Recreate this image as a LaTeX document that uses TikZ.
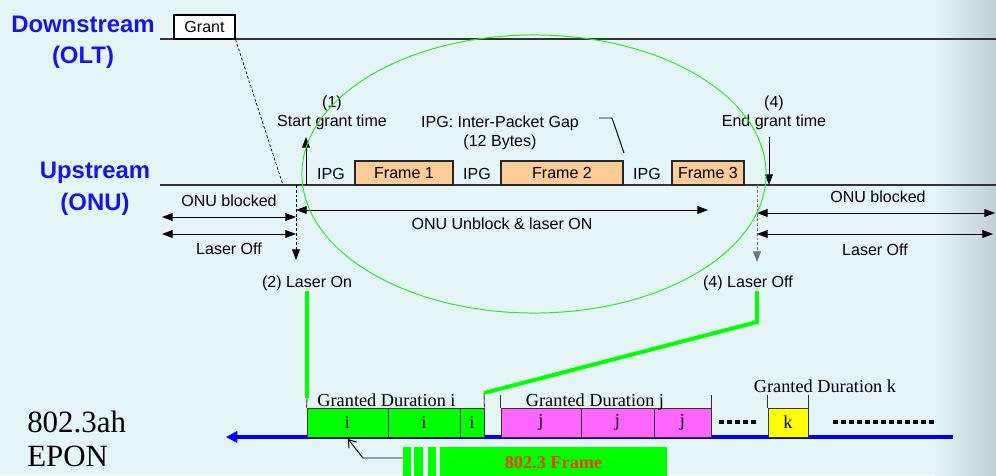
\documentclass[tikz,border=0pt]{standalone}
\usepackage{fontspec}
\setmainfont{Liberation Sans}
\newfontfamily\tmsfont{Liberation Serif}
\usetikzlibrary{arrows.meta,shapes.geometric}
\definecolor{bgc}{RGB}{229,245,246}
\definecolor{edgec}{RGB}{192,208,208}
\definecolor{headblue}{RGB}{20,20,235}
\definecolor{peach}{RGB}{255,204,153}
\definecolor{slotg}{RGB}{0,255,0}
\definecolor{slotm}{RGB}{255,102,255}
\definecolor{slotk}{RGB}{255,255,0}
\definecolor{ringg}{RGB}{45,230,45}
\definecolor{frmred}{RGB}{240,60,20}
\begin{document}
\begin{tikzpicture}[x=0.025cm,y=-0.025cm,>={Triangle[length=7.5pt,width=5.5pt]},
  txt/.style={font=\fontsize{11.4}{13}\selectfont,inner sep=0pt},
  head/.style={font=\fontsize{17}{20}\selectfont\bfseries,text=headblue,inner sep=0pt,anchor=base},
  frm/.style={txt,draw=black!85,fill=peach,line width=0.8pt,minimum height=0.6cm},
  slot/.style={draw=black!80,line width=0.6pt,minimum height=0.725cm,inner sep=0pt,font=\tmsfont\fontsize{13}{15}\selectfont},
  dur/.style={font=\tmsfont\fontsize{13}{15}\selectfont,inner sep=0pt,anchor=base},
  bar/.style={fill=slotg,minimum height=0.75cm,inner sep=0pt,anchor=north},
  gline/.style={slotg,line width=2.8pt},
  tick/.style={draw=black!80,line width=0.6pt},
  dots/.style={line width=2.2pt,dash pattern=on 3.6pt off 2.1pt},
  thinarr/.style={line width=0.7pt},
  fine/.style={line width=0.6pt,dash pattern=on 2pt off 1.4pt}]
\fill[bgc] (0,0) rectangle (996,475);
\shade[left color=bgc,right color=edgec] (935,0) rectangle (996,475);
\useasboundingbox (0,0) rectangle (996,475);
% time lines
\coordinate (dsL) at (160,39); \coordinate (dsR) at (996,39);
\coordinate (usL) at (160,185); \coordinate (usR) at (996,185);
\draw[line width=1.3pt,black!80] (dsL) -- (dsR);
\draw[line width=1.6pt,black!80] (usL) -- (usR);
\node[head] (ds) at (83,32) {Downstream};
\node[head] (olt) at (83,63) {(OLT)};
\node[head] (us) at (95,178) {Upstream};
\node[head] (onu) at (95,210) {(ONU)};
\node[txt,draw,fill=white,line width=0.8pt,minimum width=1.525cm,minimum height=0.6cm] (grant) at (204.5,27) {Grant};
\coordinate (gArr) at (283,185);
\draw[fine,line width=0.5pt] (grant.south east) -- (gArr);
% frames
\node[frm,minimum width=2.45cm] (f1) at (404,173) {Frame 1};
\node[frm,minimum width=3.05cm] (f2) at (562,173) {Frame 2};
\node[frm,minimum width=1.8cm] (f3) at (708,173) {Frame 3};
\node[txt] (g1) at (331,174) {IPG};
\node[txt] (g2) at (477,174) {IPG};
\node[txt] (g3) at (647,174) {IPG};
\node[txt] (ipg) at (500,123) {IPG: Inter-Packet Gap};
\node[txt] (ipgb) at (500,142) {(12 Bytes)};
\coordinate (ipgA) at (599,118); \coordinate (ipgK) at (612,118); \coordinate (ipgE) at (624,153);
\draw[thinarr] (ipgA) -- (ipgK) -- (ipgE);
% grant start / end
\node[txt] (sg1) at (332,103) {(1)};
\node[txt] (sg) at (332,122) {Start grant time};
\coordinate (tSg) at (306,185); \coordinate (tSgE) at (306,137);
\draw[thinarr,->] (tSg) -- (tSgE);
\node[txt] (eg1) at (774,103) {(4)};
\node[txt] (eg) at (774,122) {End grant time};
\coordinate (tEgS) at (769,137); \coordinate (tEg) at (769,185);
\draw[thinarr,->] (tEgS) -- (tEg);
\coordinate (tOn) at (296,185); \coordinate (tOnE) at (296,260);
\draw[fine,->] (tOn) -- (tOnE);
\coordinate (tOff) at (757,185); \coordinate (tOffE) at (757,262);
\draw[fine,black!55,->] (tOff) -- (tOffE);
% state arrows
\coordinate (bl0) at (162,217); \coordinate (ll0) at (162,234);
\draw[thinarr,<->] (bl0) -- (tOn |- bl0);
\draw[thinarr,<->] (ll0) -- (tOn |- ll0);
\node[txt] (blk1) at (229,201) {ONU blocked};
\node[txt] (lof1) at (229,249) {Laser Off};
\coordinate (ub1) at (708,210);
\draw[thinarr,<->] (tOn |- ub1) -- (ub1);
\node[txt] (unb) at (502,224) {ONU Unblock \& laser ON};
\coordinate (br1) at (995,213); \coordinate (lr1) at (993,234);
\draw[thinarr,<->] (tOff |- br1) -- (br1);
\draw[thinarr,<->] (tOff |- lr1) -- (lr1);
\node[txt] (blk2) at (878,197) {ONU blocked};
\node[txt] (lof2) at (875,250) {Laser Off};
\node[txt] (lon) at (307,283) {(2) Laser On};
\node[txt] (loff) at (748,283) {(4) Laser Off};
\node[draw=ringg,line width=0.7pt,ellipse,minimum width=11.6cm,minimum height=6.95cm,inner sep=0pt] (ring) at (534,174) {};
% EPON slots
\coordinate (bR) at (953,437); \coordinate (bL) at (226,437);
\draw[blue,line width=2.8pt,-{Triangle[length=8pt,width=8pt]}] (bR) -- (bL);
\foreach \n/\c/\w/\t/\col in {i1/347.5/2.025/i/slotg,i2/424/1.8/i/slotg,i3/472/0.6/i/slotg,
  j1/541/2/j/slotm,j2/617.5/1.825/j/slotm,j3/682.5/1.425/j/slotm,k1/788/1/k/slotk}
  \node[slot,fill=\col,minimum width=\w cm] (\n) at (\c,422.5) {\t};
\coordinate (iTop) at (307,398); \coordinate (iEnd) at (484,393);
\draw[tick] (i1.north west) -- (iTop);
\draw[tick] (i3.north east) -- (iEnd);
\draw[tick] (j1.north west) -- ++(0,-13);
\draw[tick] (j3.north east) -- ++(0,-13);
\draw[tick] (k1.north west) -- ++(0,-13);
\draw[tick] (k1.north east) -- ++(0,-13);
\node[dur] (di) at (386.5,406) {Granted Duration i};
\node[dur] (dj) at (595,406) {Granted Duration j};
\node[dur] (dk) at (825,392) {Granted Duration k};
\coordinate (d0) at (719,422); \coordinate (d1) at (758,422);
\coordinate (d2) at (833,422); \coordinate (d3) at (937,422);
\draw[dots] (d0) -- (d1);
\draw[dots] (d2) -- (d3);
% links to the slot
\coordinate (offS) at (757,291); \coordinate (offK) at (757,322);
\draw[gline] (lon.south) -- (iTop);
\draw[gline] (offS) -- (offK) -- (iEnd);
% 802.3 frame
\node[bar,minimum width=0.2cm] (b1) at (407,447) {};
\node[bar,minimum width=0.225cm] (b2) at (418.5,447) {};
\node[bar,minimum width=0.2cm] (b3) at (432,447) {};
\node[bar,minimum width=5.675cm,text=frmred,font=\tmsfont\bfseries\fontsize{13}{15}\selectfont] (fr) at (553.5,447) {802.3 Frame};
\coordinate (lk) at (363,458); \coordinate (lt) at (348,439);
\draw[thinarr,-{Straight Barb[length=5pt,width=7pt]}] (b1.west |- lk) -- (lk) -- (lt);
\node[font=\tmsfont\fontsize{22}{26}\selectfont,inner sep=0pt,anchor=base west] (ep1) at (27,432) {802.3ah};
\node[font=\tmsfont\fontsize{22}{26}\selectfont,inner sep=0pt,anchor=base west] (ep2) at (27,466) {EPON};
\end{tikzpicture}
\end{document}
